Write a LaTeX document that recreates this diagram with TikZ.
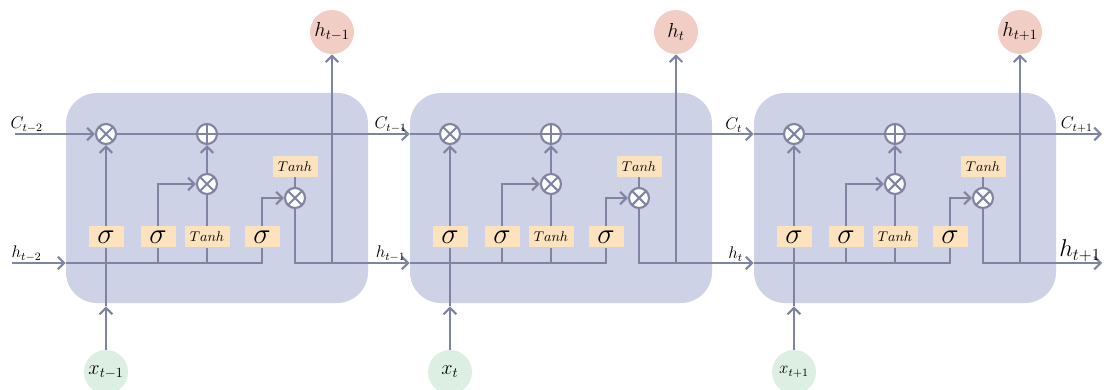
\documentclass[tikz,border=0pt]{standalone}
\usepackage{amsmath}
\usepackage{tikz}
\usetikzlibrary{arrows.meta, positioning, calc}
\definecolor{cellfill}{RGB}{205,210,230}
\definecolor{wireclr}{RGB}{126,132,162}
\definecolor{gatefill}{RGB}{252,227,190}
\definecolor{outfill}{RGB}{241,205,196}
\definecolor{infill}{RGB}{221,239,227}

\begin{document}
\begin{tikzpicture}[
  cellbox/.style={fill=cellfill, rounded corners=22pt,
              minimum width=7.55cm, minimum height=5.25cm},
  gate/.style={fill=gatefill, font=\huge, inner sep=0pt,
              minimum width=0.875cm, minimum height=0.525cm},
  tgate/.style={gate, font=\normalsize, minimum width=1.125cm},
  opnode/.style={circle, draw=wireclr, fill=white, line width=1.5pt,
              minimum size=0.5cm, inner sep=0pt},
  opmul/.style={opnode, path picture={
      \draw[wireclr, line width=1.5pt]
        (path picture bounding box.north west) -- (path picture bounding box.south east)
        (path picture bounding box.north east) -- (path picture bounding box.south west);}},
  opadd/.style={opnode, path picture={
      \draw[wireclr, line width=1.5pt]
        (path picture bounding box.north) -- (path picture bounding box.south)
        (path picture bounding box.east) -- (path picture bounding box.west);}},
  outc/.style={circle, fill=outfill, minimum size=1.1cm, inner sep=0pt, font=\Large},
  inc/.style={circle, fill=infill, minimum size=1.1cm, inner sep=0pt},
  ln/.style={draw=wireclr, line width=1.5pt},
  arr/.style={ln, -{Straight Barb[length=4.5pt, width=9pt]}},
  lbl/.style={font=\large, inner sep=1pt},
]
\useasboundingbox (0,0) rectangle (27.6,9.725);

% ── LSTM cells ───────────────────────────────────────────────
\foreach \i/\hl/\xl/\xf in {1/{h_{t-1}}/{x_{t-1}}/\Large,
                            2/{h_t}/{x_t}/\Large,
                            3/{h_{t+1}}/{x_{t+1}}/\large} {
\begin{scope}[xshift={(\i-1)*8.6cm}]
  \node[cellbox] (cell\i) at (5.425, 4.775) {};

  \node[opmul] (fm\i) at (2.65, 6.375) {};
  \node[opadd] (ad\i) at (5.175, 6.375) {};
  \node[opmul] (im\i) at (5.175, 5.125) {};
  \node[opmul] (om\i) at (7.375, 4.775) {};
  \node[tgate, above=0.25cm of om\i] (th\i) {$Tanh$};

  \node[gate] (sf\i) at (2.65, 3.8) {$\sigma$};
  \node[gate] (si\i) at (3.95, 3.8) {$\sigma$};
  \node[tgate] (tg\i) at (5.175, 3.8) {$Tanh$};
  \node[gate] (so\i) at (6.55, 3.8) {$\sigma$};

  \node[outc] (ho\i) at (8.3, 8.925) {$\hl$};
  \node[inc, font=\xf] (x\i) at (2.65, 0.425) {$\xl$};

  \coordinate (hj\i) at (8.3, 3.15);
  \coordinate (hin\i) at (cell\i.west |- hj\i);
  \coordinate (cin\i) at (cell\i.west |- fm\i);
  \coordinate (bot\i) at ($(x\i |- cell\i.south)+(0,-0.08)$);

  % input and gates
  \draw[arr] (x\i) -- (bot\i);
  \draw[ln] (bot\i) -- (sf\i);
  \draw[arr] (sf\i) -- (fm\i);
  \draw[ln] (hin\i) -| (so\i);
  \draw[ln] (si\i) -- (si\i |- hin\i);
  \draw[ln] (tg\i) -- (tg\i |- hin\i);

  % cell state
  \draw[ln] (fm\i) -- (ad\i);
  \draw[arr] (si\i) |- (im\i);
  \draw[ln] (tg\i) -- (im\i);
  \draw[arr] (im\i) -- (ad\i);

  % output
  \draw[arr] (so\i) |- (om\i);
  \draw[ln] (th\i) -- (om\i);
  \draw[ln] (om\i) |- (hj\i);
  \draw[arr] (hj\i) -- (ho\i);
\end{scope}
}

% ── Links between cells ─────────────────────────────────────
\coordinate (cstart) at (0.375, 6.375);
\coordinate (hstart) at (0.3, 3.15);
\coordinate (cend) at (27.55, 6.375);
\coordinate (hend) at (27.55, 3.15);

\draw[arr] (cstart) -- (fm1);
\draw[arr] (hstart) -- (hin1);
\node[lbl, above right=0pt and -0.15cm of cstart] (cl0) {$C_{t-2}$};
\node[lbl, above right=0pt and -0.05cm of hstart] (hl0) {$h_{t-2}$};

\draw[arr] (ad1) -- (cin2);
\draw[ln] (cin2) -- (fm2);
\draw[arr] (hj1) -- (hin2);
\node[lbl, above=0pt of cin2, xshift=-0.475cm] (cl1) {$C_{t-1}$};
\node[lbl, above=0pt of hin2, xshift=-0.475cm] (hl1) {$h_{t-1}$};

\draw[arr] (ad2) -- (cin3);
\draw[ln] (cin3) -- (fm3);
\draw[arr] (hj2) -- (hin3);
\node[lbl, above=0pt of cin3, xshift=-0.5cm] (cl2) {$C_t$};
\node[lbl, above=0pt of hin3, xshift=-0.45cm] (hl2) {$h_t$};

\draw[arr] (ad3) -- (cend);
\draw[arr] (hj3) -- (hend);
\node[lbl, above=0pt of cend, xshift=-0.63cm] (cl3) {$C_{t+1}$};
\node[lbl, font=\LARGE, above=0pt of hend, xshift=-0.55cm] (hl3) {$h_{t+1}$};

\end{tikzpicture}
\end{document}
